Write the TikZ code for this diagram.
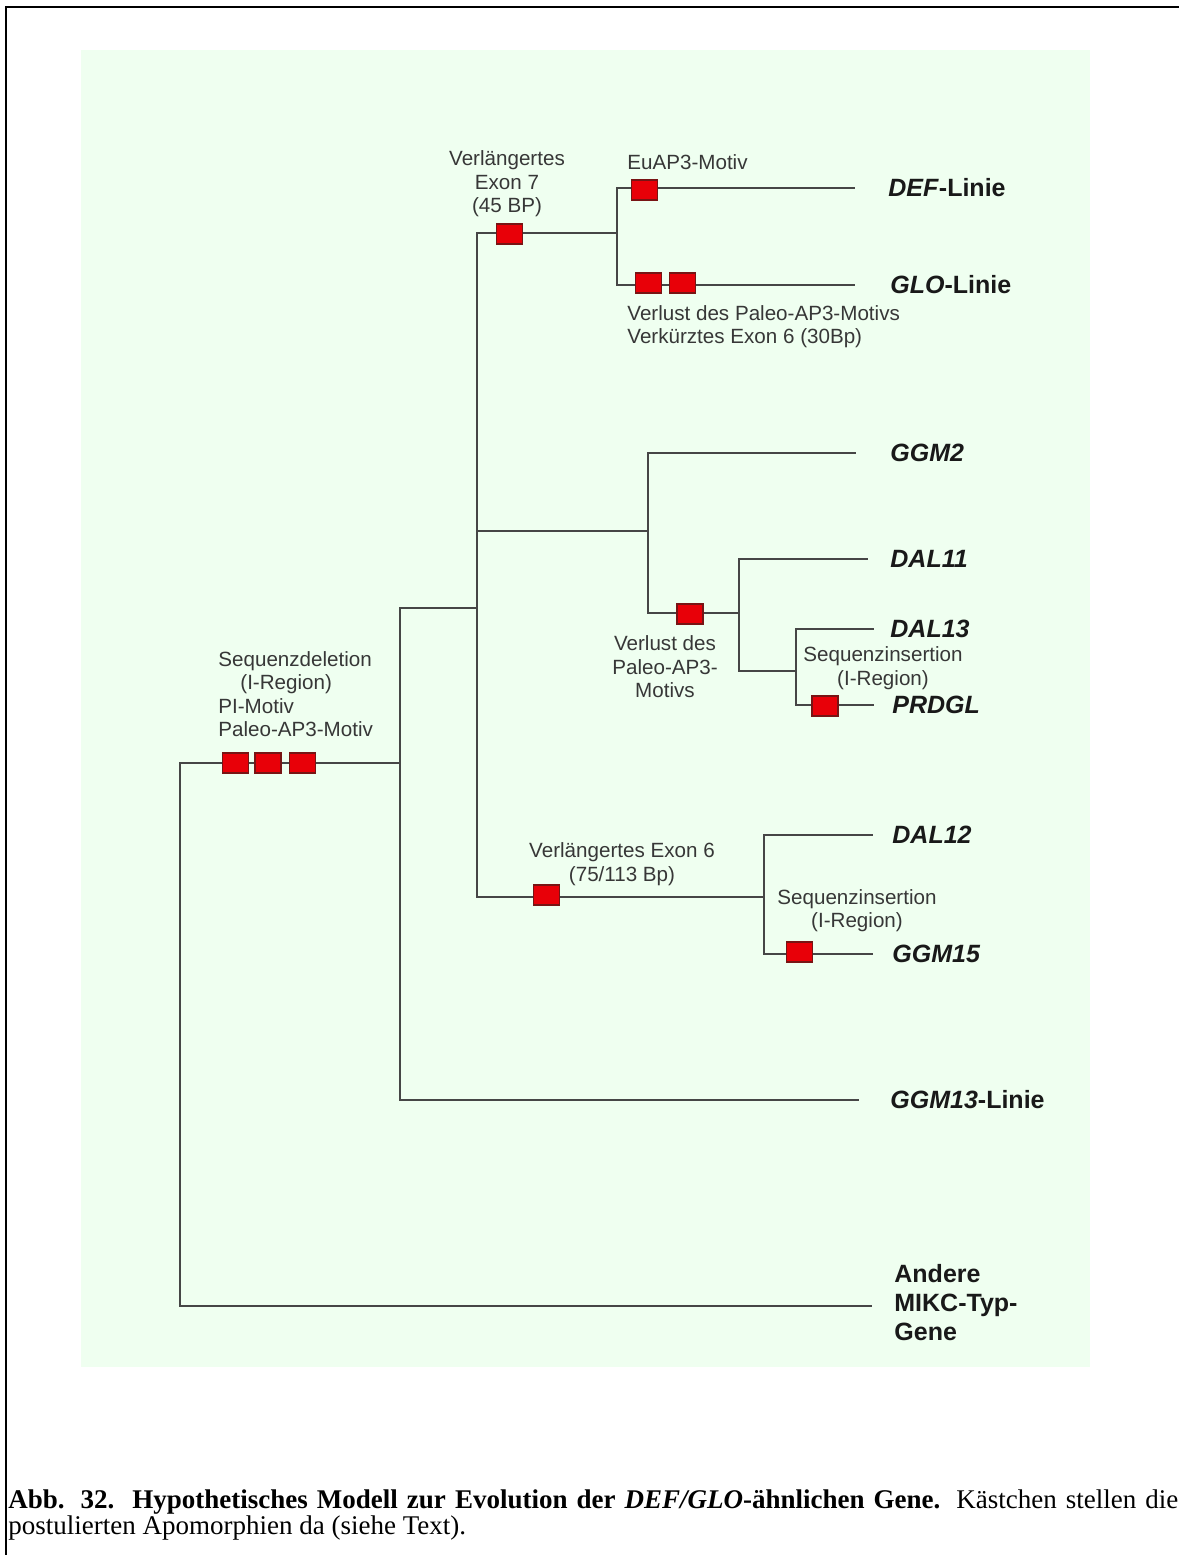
\documentclass[tikz,border=0pt]{standalone}
\usepackage{fontspec}
\setmainfont{Liberation Serif}
\setsansfont{Liberation Sans}
\definecolor{panel}{RGB}{239,255,240}
\definecolor{apored}{RGB}{232,0,8}
\definecolor{apoedge}{RGB}{120,20,20}
\definecolor{linegray}{RGB}{70,70,70}
\definecolor{labgray}{RGB}{55,55,55}
\tikzset{
  branch/.style={draw=linegray, line width=1pt, line cap=rect},
  apo/.style={draw=apoedge, fill=apored, line width=0.6pt, minimum width=13pt, minimum height=10pt, inner sep=0pt},
  lab/.style={font=\sffamily\fontsize{10.3}{11.7}\selectfont, text=labgray, inner sep=0pt, align=center},
  gene/.style={font=\sffamily\bfseries\fontsize{12.5}{14.5}\selectfont, text=black!90, inner sep=0pt, anchor=west, align=left},
}
\begin{document}
\begin{tikzpicture}[x=0.5pt, y=-0.5pt]
\useasboundingbox (0,0) rectangle (1179,1555);
% page frame and panel
\fill[panel] (81,50) rectangle (1090,1367);
\draw[line width=1pt] (6,1555) -- (6,6.5) -- (1179,6.5);

% junction coordinates
\coordinate (r0) at (180,763);  \coordinate (r1) at (180,1306);
\coordinate (a0) at (400,608);  \coordinate (aM) at (400,763);  \coordinate (a1) at (400,1100);
\coordinate (b0) at (477,233);  \coordinate (bA) at (477,608);  \coordinate (bD) at (477,531); \coordinate (b1) at (477,897);
\coordinate (c0) at (617,188);  \coordinate (cM) at (617,233);  \coordinate (c1) at (617,285);
\coordinate (d0) at (648,453);  \coordinate (dM) at (648,531);  \coordinate (d1) at (648,613);
\coordinate (e0) at (739,559);  \coordinate (eM) at (739,613);  \coordinate (e1) at (739,671);
\coordinate (f0) at (796,629);  \coordinate (fM) at (796,671);  \coordinate (f1) at (796,705);
\coordinate (g0) at (764,835);  \coordinate (gM) at (764,897);  \coordinate (g1) at (764,954);
% tip ends
\coordinate (tDEF) at (854,188);
\coordinate (tGLO) at (854,285);
\coordinate (tGGM2) at (855,453);
\coordinate (tDAL11) at (867,559);
\coordinate (tDAL13) at (873,629);
\coordinate (tPRDGL) at (873,705);
\coordinate (tDAL12) at (872,835);
\coordinate (tGGM15) at (872,954);
\coordinate (tGGM13) at (858,1100);
\coordinate (tAND) at (871,1306);

% branches
\draw[branch] (r0) -- (aM);
\draw[branch] (r0) -- (r1) -- (tAND);
\draw[branch] (a0) -- (a1) -- (tGGM13);
\draw[branch] (a0) -- (bA);
\draw[branch] (b0) -- (b1);
\draw[branch] (b0) -- (cM);
\draw[branch] (tDEF) -- (c0) -- (c1) -- (tGLO);
\draw[branch] (bD) -- (dM);
\draw[branch] (tGGM2) -- (d0) -- (d1) -- (eM);
\draw[branch] (tDAL11) -- (e0) -- (e1) -- (fM);
\draw[branch] (tDAL13) -- (f0) -- (f1) -- (tPRDGL);
\draw[branch] (b1) -- (gM);
\draw[branch] (tDAL12) -- (g0) -- (g1) -- (tGGM15);

% apomorphy boxes
\node[apo] (m1) at (235.5,763) {};
\node[apo] (m2) at (268,763) {};
\node[apo] (m3) at (302.5,763) {};
\node[apo] (m4) at (509.5,234) {};
\node[apo] (m5) at (644.5,190) {};
\node[apo] (m6) at (648.5,283) {};
\node[apo] (m7) at (682.5,283) {};
\node[apo] (m8) at (690,614) {};
\node[apo] (m9) at (825,706) {};
\node[apo] (m10) at (546.5,895) {};
\node[apo] (m11) at (799.5,952) {};

% gene labels
\node[gene] (lDEF) at (888,188) {\textit{DEF}-Linie};
\node[gene] (lGLO) at (890,285) {\textit{GLO}-Linie};
\node[gene] (lGGM2) at (890,453) {\textit{GGM2}};
\node[gene] (lDAL11) at (890,559) {\textit{DAL11}};
\node[gene] (lDAL13) at (890,629) {\textit{DAL13}};
\node[gene] (lPRDGL) at (892,705) {\textit{PRDGL}};
\node[gene] (lDAL12) at (892,835) {\textit{DAL12}};
\node[gene] (lGGM15) at (892,954) {\textit{GGM15}};
\node[gene] (lGGM13) at (890,1100) {\textit{GGM13}-Linie};
\node[gene] (lAND) at (894,1303) {Andere\\MIKC-Typ-\\Gene};

% apomorphy labels
\node[lab] (tx1) at (507,184) {Verlängertes\\Exon 7\\(45 BP)};
\node[lab, anchor=west] (tx2) at (627,162) {EuAP3-Motiv};
\node[lab, anchor=west, align=left] (tx3) at (627,326.5) {Verlust des Paleo-AP3-Motivs\\Verkürztes Exon 6 (30Bp)};
\node[lab, anchor=west, align=left] (tx4) at (218,694) {Sequenzdeletion\\\hspace*{11pt}(I-Region)\\PI-Motiv\\Paleo-AP3-Motiv};
\node[lab] (tx5) at (665,667) {Verlust des\\Paleo-AP3-\\Motivs};
\node[lab] (tx6) at (883,668) {Sequenzinsertion\\(I-Region)};
\node[lab] (tx7) at (622,864) {Verlängertes Exon 6\\(75/113 Bp)};
\node[lab] (tx8) at (857,910.5) {Sequenzinsertion\\(I-Region)};

% caption
\node[anchor=north west, inner sep=0pt, text width=585pt, font=\rmfamily\fontsize{13.5}{13}\selectfont, align=justify] (cap) at (8,1489)
 {\textbf{Abb. 32.\ \ Hypothetisches Modell zur Evolution der \textit{DEF/GLO}-ähnlichen Gene.} Kästchen stellen die\linebreak postulierten Apomorphien da (siehe Text).};
\end{tikzpicture}
\end{document}
